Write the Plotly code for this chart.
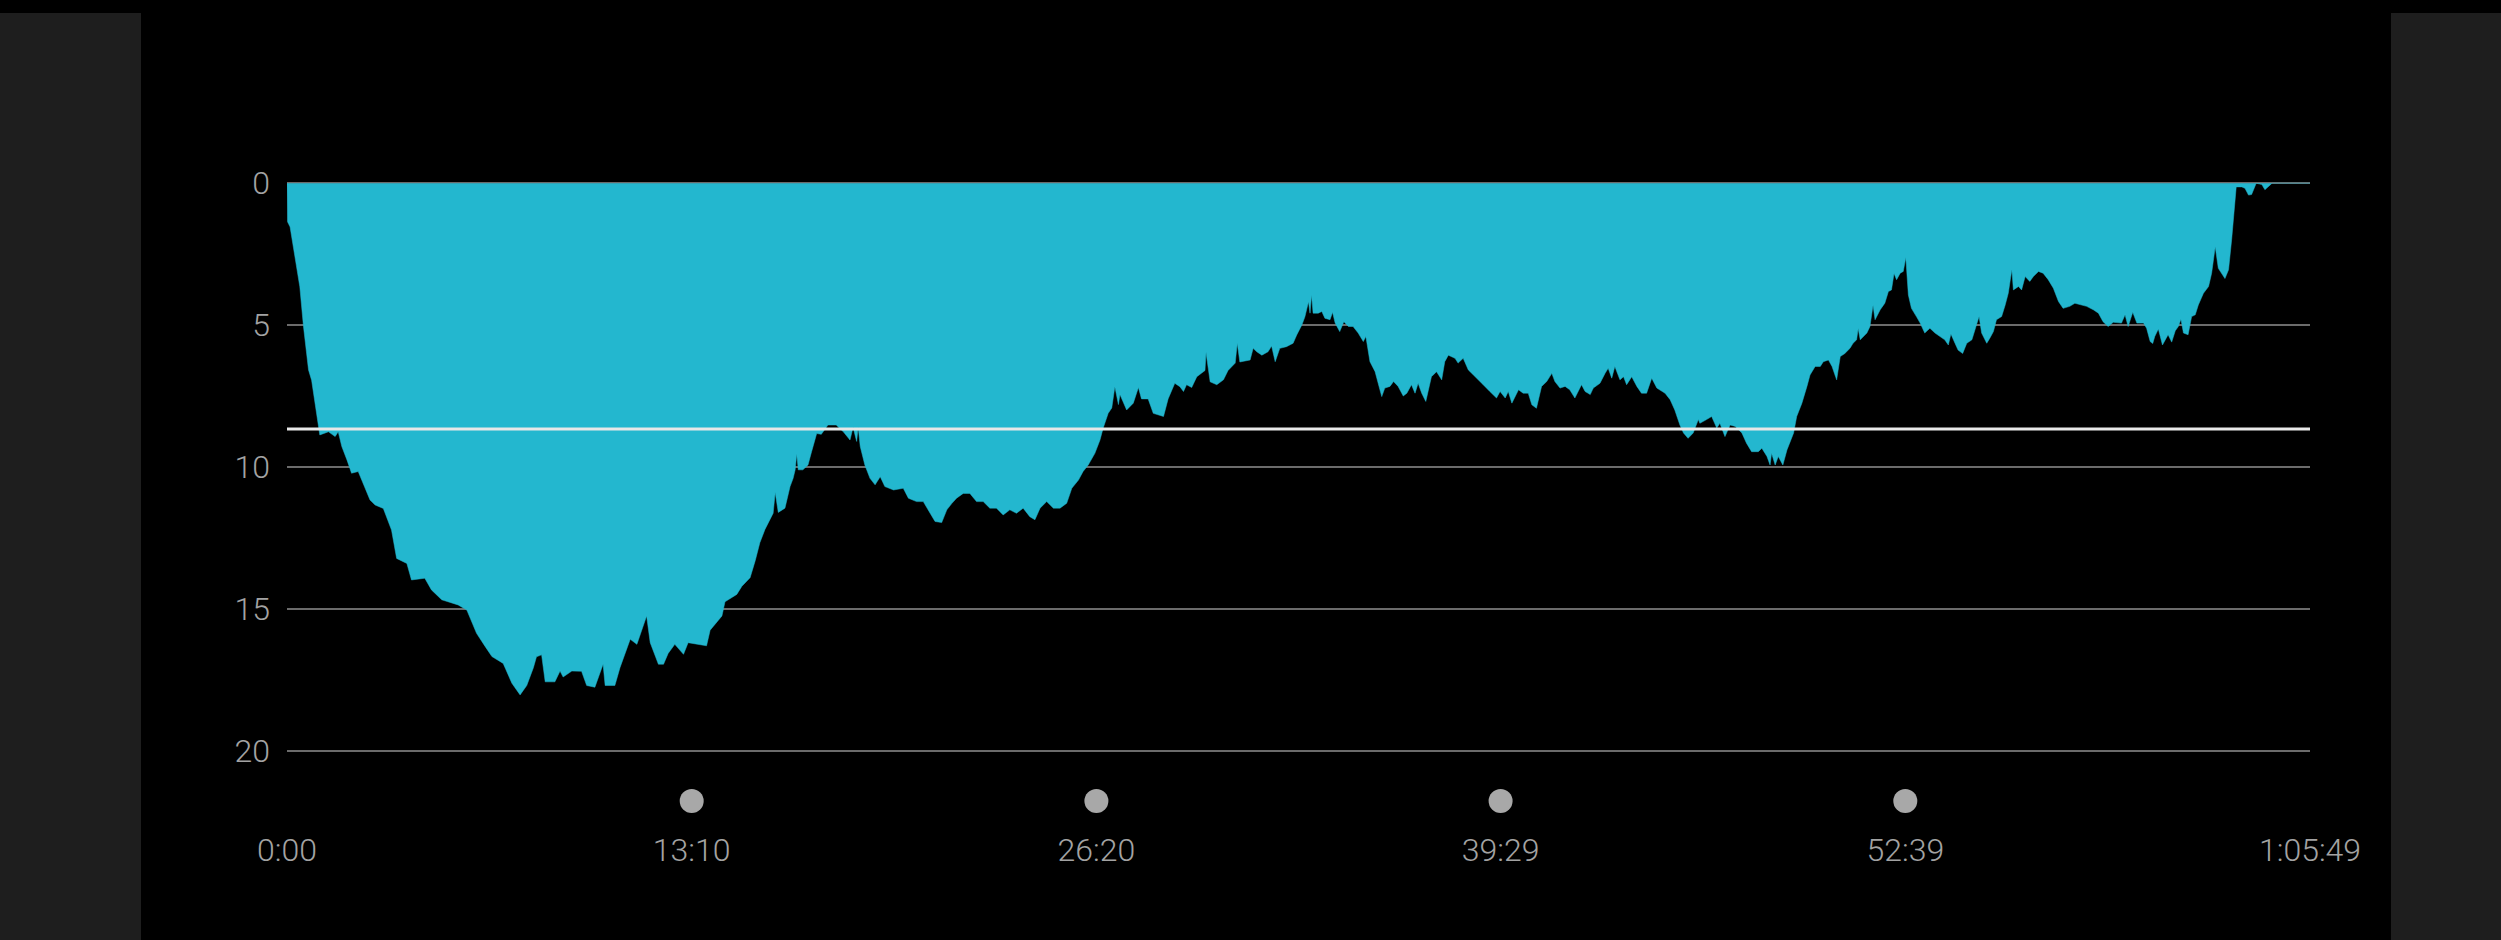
import plotly.graph_objects as go

# ---- data -------------------------------------------------------------
time_s = [0, 1, 6, 25, 32, 42, 48, 61, 64, 81, 94, 100, 107, 117, 126, 139, 149, 162, 172, 188,
          204, 214, 234, 243, 269, 282, 302, 334, 351, 370, 387, 400, 422, 439, 455, 468, 481, 487,
          497, 504, 523, 533, 539, 556, 575, 585, 601, 617, 621, 640, 650, 670, 683, 702, 709, 725,
          735, 744, 757, 774, 783, 819, 826, 849, 855, 878, 888, 904, 914, 923, 933, 949, 953, 959,
          972, 982, 988, 992, 995, 998, 1007, 1017, 1024, 1034, 1043, 1056, 1072, 1086, 1099, 1105,
          1112, 1115, 1119, 1128, 1138, 1148, 1158, 1167, 1184, 1203, 1213, 1229, 1242, 1255, 1265,
          1278, 1288, 1298, 1307, 1320, 1333, 1346, 1359, 1372, 1385, 1398, 1411, 1424, 1437, 1450,
          1460, 1470, 1483, 1496, 1509, 1522, 1532, 1545, 1554, 1564, 1577, 1587, 1593, 1603, 1610,
          1616, 1623, 1626, 1639, 1652, 1662, 1668, 1681, 1691, 1701, 1711, 1720, 1733, 1743, 1750,
          1756, 1766, 1776, 1792, 1794, 1802, 1815, 1828, 1837, 1851, 1855, 1860, 1880, 1886, 1893,
          1903, 1915, 1922, 1929, 1938, 1951, 1964, 1971, 1981, 1987, 1994, 1997, 2000, 2003, 2013,
          2020, 2026, 2036, 2041, 2046, 2055, 2063, 2072, 2081, 2091, 2101, 2106, 2114, 2124, 2130,
          2137, 2143, 2153, 2160, 2169, 2179, 2186, 2195, 2202, 2208, 2215, 2223, 2234, 2244, 2254,
          2260, 2267, 2280, 2286, 2296, 2306, 2316, 2326, 2335, 2348, 2361, 2368, 2378, 2384, 2391,
          2404, 2413, 2423, 2430, 2439, 2449, 2459, 2469, 2475, 2485, 2495, 2504, 2514, 2521, 2527,
          2534, 2544, 2550, 2563, 2573, 2579, 2586, 2592, 2602, 2609, 2615, 2625, 2635, 2644, 2654,
          2664, 2674, 2690, 2700, 2709, 2719, 2726, 2735, 2745, 2755, 2758, 2771, 2781, 2791, 2797,
          2807, 2817, 2827, 2840, 2849, 2859, 2872, 2879, 2889, 2895, 2898, 2905, 2911, 2920, 2928,
          2934, 2941, 2947, 2957, 2967, 2973, 2983, 2993, 2999, 3009, 3016, 3025, 3032, 3041, 3051,
          3057, 3064, 3067, 3071, 3084, 3090, 3096, 3100, 3110, 3119, 3126, 3132, 3137, 3142, 3149,
          3155, 3160, 3165, 3171, 3181, 3188, 3197, 3207, 3217, 3227, 3236, 3243, 3248, 3256, 3262,
          3271, 3279, 3289, 3295, 3298, 3303, 3308, 3318, 3324, 3331, 3337, 3347, 3354, 3360, 3367,
          3370, 3380, 3386, 3393, 3402, 3409, 3419, 3428, 3438, 3448, 3458, 3467, 3480, 3490, 3500,
          3513, 3526, 3536, 3545, 3555, 3565, 3575, 3581, 3588, 3594, 3603, 3611, 3624, 3630, 3637,
          3642, 3646, 3653, 3661, 3669, 3672, 3679, 3686, 3692, 3697, 3702, 3711, 3718, 3725, 3731,
          3741, 3751, 3757, 3764, 3770, 3783, 3790, 3796, 3801, 3805, 3816, 3822, 3829, 3835, 3844,
          3855, 3861, 3871, 3875, 3949]

depth_m = [0.0, 1.36, 1.54, 3.65, 5.02, 6.58, 6.94, 8.63, 8.87, 8.76, 8.93, 8.76, 9.28, 9.75, 10.22,
           10.16, 10.57, 11.16, 11.34, 11.46, 12.22, 13.22, 13.40, 13.98, 13.92, 14.33, 14.68, 14.86,
           15.04, 15.86, 16.33, 16.68, 16.92, 17.62, 18.03, 17.70, 17.07, 16.69, 16.62, 17.57, 17.57,
           17.19, 17.40, 17.19, 17.20, 17.70, 17.76, 16.95, 17.70, 17.70, 17.07, 16.07, 16.25, 15.25,
           16.19, 16.95, 16.95, 16.57, 16.25, 16.60, 16.19, 16.30, 15.75, 15.25, 14.75, 14.49, 14.20,
           13.90, 13.30, 12.67, 12.20, 11.63, 10.90, 11.60, 11.45, 10.69, 10.40, 10.10, 9.54, 10.10,
           10.10, 9.93, 9.46, 8.82, 8.85, 8.52, 8.52, 8.76, 9.05, 8.60, 9.10, 8.60, 9.28, 9.93, 10.40,
           10.63, 10.34, 10.69, 10.81, 10.75, 11.10, 11.22, 11.22, 11.63, 11.92, 11.96, 11.51, 11.28,
           11.10, 10.93, 10.93, 11.22, 11.22, 11.45, 11.45, 11.69, 11.51, 11.63, 11.45, 11.75, 11.86,
           11.45, 11.22, 11.45, 11.45, 11.28, 10.75, 10.46, 10.16, 9.93, 9.52, 9.05, 8.64, 8.11, 7.92,
           7.17, 7.80, 7.45, 7.99, 7.75, 7.20, 7.60, 7.60, 8.11, 8.17, 8.22, 7.60, 7.05, 7.17, 7.34,
           7.10, 7.20, 6.82, 6.60, 5.96, 7.00, 7.10, 6.93, 6.60, 6.34, 5.64, 6.30, 6.23, 5.82, 5.94,
           6.06, 5.94, 5.74, 6.29, 5.82, 5.76, 5.64, 5.35, 5.00, 4.71, 4.18, 4.58, 3.94, 4.58, 4.58,
           4.52, 4.76, 4.81, 4.55, 4.93, 5.23, 4.88, 5.05, 5.05, 5.28, 5.58, 5.40, 6.29, 6.64, 7.05,
           7.52, 7.22, 7.16, 6.99, 7.16, 7.50, 7.40, 7.10, 7.40, 7.05, 7.40, 7.69, 6.82, 6.64, 6.93,
           6.29, 6.06, 6.17, 6.34, 6.17, 6.58, 6.76, 6.93, 7.10, 7.34, 7.57, 7.34, 7.57, 7.34, 7.75,
           7.28, 7.40, 7.40, 7.81, 7.93, 7.16, 6.99, 6.70, 6.99, 7.22, 7.16, 7.28, 7.57, 7.34, 7.10,
           7.34, 7.45, 7.22, 7.05, 6.70, 6.52, 6.87, 6.46, 6.93, 6.82, 7.10, 6.82, 7.16, 7.40, 7.40,
           6.87, 7.22, 7.40, 7.63, 7.99, 8.52, 8.80, 8.99, 8.80, 8.33, 8.46, 8.33, 8.22, 8.63, 8.46,
           8.93, 8.52, 8.57, 8.80, 9.16, 9.46, 9.46, 9.34, 9.63, 9.93, 9.52, 9.93, 9.63, 9.93, 9.40,
           9.10, 8.80, 8.22, 7.76, 7.16, 6.76, 6.46, 6.46, 6.29, 6.23, 6.46, 6.93, 6.11, 6.00, 5.82,
           5.64, 5.52, 5.12, 5.52, 5.28, 5.05, 4.30, 4.81, 4.46, 4.23, 3.82, 3.76, 3.18, 3.40, 3.17,
           3.11, 2.62, 3.94, 4.41, 4.71, 4.93, 5.28, 5.11, 5.28, 5.40, 5.52, 5.70, 5.31, 5.64, 5.88,
           6.00, 5.64, 5.52, 5.17, 4.93, 4.70, 5.28, 5.64, 5.46, 5.23, 4.81, 4.70, 4.29, 3.88, 3.04,
           3.76, 3.64, 3.76, 3.29, 3.46, 3.29, 3.11, 3.17, 3.40, 3.70, 4.17, 4.41, 4.34, 4.23, 4.29,
           4.34, 4.46, 4.58, 4.88, 5.05, 4.90, 4.93, 4.93, 4.64, 5.05, 4.55, 4.93, 4.93, 5.11, 5.58,
           5.65, 5.40, 5.14, 5.70, 5.40, 5.34, 5.60, 5.20, 5.05, 4.79, 5.28, 5.34, 4.70, 4.64, 4.29,
           3.88, 3.64, 3.17, 2.24, 3.00, 3.36, 3.05, 2.00, 1.06, 0.13, 0.13, 0.18, 0.42, 0.40, 0.00,
           0.05, 0.23, 0.05, 0.00, 0.00]

avg_depth = 8.66
y_ticks = [0, 5, 10, 15, 20]
x_tick_vals = [0, 790, 1580, 2369, 3159, 3949]
x_tick_text = ["0:00", "13:10", "26:20", "39:29", "52:39", "1:05:49"]
marker_ticks = [790, 1580, 2369, 3159]

# ---- style -------------------------------------------------------------
W, H = 2501, 940
ML, MR, MT, MB = 287, 191, 169, 114
Y_RANGE = [22.65, -0.5]          # extended below 20 so the tick dots fit
DOT_LEVEL = 21.77
FILL = "#23b7cf"
LABEL = "#a3a3a3"
GRID = "#6b6b6b"
PANEL = "#1e1e1e"
FONT = dict(family="Roboto, Liberation Sans, sans-serif", size=32, color=LABEL, weight=300)

plot_w = W - ML - MR
plot_h = H - MT - MB


def px_to_paper_x(px):
    return (px - ML) / plot_w


def px_to_paper_y(py):
    return (H - MB - py) / plot_h


fig = go.Figure()

fig.add_trace(go.Scatter(
    x=time_s, y=depth_m, mode="lines", fill="tozeroy",
    fillcolor=FILL, line=dict(color=FILL, width=0.5),
    hoverinfo="skip", showlegend=False,
))

fig.add_trace(go.Scatter(
    x=marker_ticks, y=[DOT_LEVEL] * len(marker_ticks), mode="markers",
    marker=dict(size=24, color="#a8a8a8", line=dict(width=0)),
    cliponaxis=False, hoverinfo="skip", showlegend=False,
))

shapes = [
    dict(type="rect", xref="paper", yref="paper", layer="below",
         x0=px_to_paper_x(0), x1=px_to_paper_x(141),
         y0=px_to_paper_y(940), y1=px_to_paper_y(13),
         fillcolor=PANEL, line=dict(width=0)),
    dict(type="rect", xref="paper", yref="paper", layer="below",
         x0=px_to_paper_x(2391), x1=px_to_paper_x(2501),
         y0=px_to_paper_y(940), y1=px_to_paper_y(13),
         fillcolor=PANEL, line=dict(width=0)),
    dict(type="line", xref="x", yref="y", layer="above",
         x0=x_tick_vals[0], x1=x_tick_vals[-1], y0=avg_depth, y1=avg_depth,
         line=dict(color="#e8e8e8", width=3)),
]

fig.update_layout(
    width=W, height=H,
    margin=dict(l=ML, r=MR, t=MT, b=MB, pad=0),
    paper_bgcolor="black", plot_bgcolor="black",
    font=FONT,
    shapes=shapes,
    showlegend=False,
)

fig.update_xaxes(
    range=[x_tick_vals[0], x_tick_vals[-1]],
    tickmode="array", tickvals=x_tick_vals, ticktext=x_tick_text,
    showgrid=False, zeroline=False, showline=False, ticks="",
    ticklabelstandoff=2, tickfont=FONT,
)
fig.update_yaxes(
    range=Y_RANGE,
    tickmode="array", tickvals=y_ticks,
    showgrid=True, gridcolor=GRID, gridwidth=2,
    zeroline=False, showline=False, ticks="",
    ticklabelstandoff=16, tickfont=FONT,
)

fig.write_html(
    "out.html",
    config={"displayModeBar": False},
    post_script="document.body.style.margin='0';"
                "document.body.style.background='black';"
                "document.body.style.overflow='hidden';",
)
